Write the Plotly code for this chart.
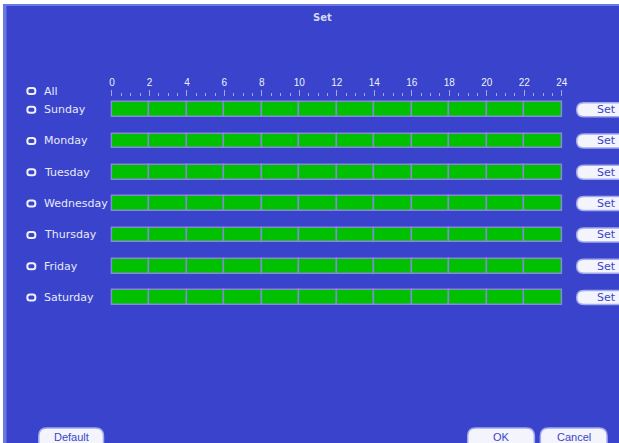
import plotly.graph_objects as go

W, H = 619, 443

# schedule data: every day recorded in 2-hour cells, all day
days = ["Sunday", "Monday", "Tuesday", "Wednesday", "Thursday", "Friday", "Saturday"]
cell_start = [0, 2, 4, 6, 8, 10, 12, 14, 16, 18, 20, 22]
cell_len = [2, 2, 2, 2, 2, 2, 2, 2, 2, 2, 2, 2]
hour_ticks = [0, 2, 4, 6, 8, 10, 12, 14, 16, 18, 20, 22, 24]

BLUE = "#3943cc"
TXT = "#e8eaf9"
GREEN = "#00c000"
CELL_LINE = "#838bd2"

# pixel helpers (layout only)
ROW0, ROWSTEP = 109.7, 31.3
BAR_L, BAR_R = 112.5, 564.5


def px(x):
    return x / W


def py(y):
    return 1 - y / H


def row_px(i):
    return ROW0 + ROWSTEP * i


def round_rect(x0, y0, x1, y1, r):
    rx, ry = r / W, r / H
    a0, a1, b0, b1 = px(x0), px(x1), py(y1), py(y0)
    return (f"M{a0+rx},{b0} L{a1-rx},{b0} Q{a1},{b0} {a1},{b0+ry} "
            f"L{a1},{b1-ry} Q{a1},{b1} {a1-rx},{b1} L{a0+rx},{b1} "
            f"Q{a0},{b1} {a0},{b1-ry} L{a0},{b0+ry} Q{a0},{b0} {a0+rx},{b0} Z")


def label(text, x, y, size, color, family="DejaVu Sans", xanchor="center"):
    return dict(text=text, x=px(x), y=py(y), xref="paper", yref="paper",
                xanchor=xanchor, yanchor="middle", showarrow=False,
                font=dict(family=family, size=size, color=color))


xs, bases, ys = [], [], []
for i, d in enumerate(days):
    for s, l in zip(cell_start, cell_len):
        xs.append(l)
        bases.append(s)
        ys.append(i)

fig = go.Figure()
fig.add_trace(go.Bar(
    x=xs, base=bases, y=ys, orientation="h", width=0.47,
    marker=dict(color=GREEN, line=dict(color=CELL_LINE, width=1.5)),
    hoverinfo="skip", showlegend=False,
))

shapes = []
# window frame
shapes.append(dict(type="rect", xref="paper", yref="paper", x0=0, x1=1, y0=0, y1=1,
                   fillcolor="white", line=dict(width=0), layer="below"))
shapes.append(dict(type="rect", xref="paper", yref="paper", x0=px(3), x1=1.01, y0=-0.01, y1=py(4),
                   fillcolor="#6d79e2", line=dict(width=0), layer="below"))
shapes.append(dict(type="rect", xref="paper", yref="paper", x0=px(6.5), x1=1.01, y0=-0.01, y1=py(6),
                   fillcolor=BLUE, line=dict(width=0), layer="below"))

annotations = [label("<b>Set</b>", 324, 18, 10, "#d4d8f4")]

label_rows = [("All", 91)] + [(d, row_px(i)) for i, d in enumerate(days)]
for name, yy in label_rows:
    shapes.append(dict(type="path", xref="paper", yref="paper",
                       path=round_rect(27.5, yy - 3, 35.5, yy + 3, 2.5),
                       fillcolor=BLUE, line=dict(color="#f0f1fb", width=2)))
    annotations.append(label(name, 42.5, yy, 11, TXT, xanchor="left"))

for i, d in enumerate(days):
    yy = row_px(i)
    shapes.append(dict(type="path", xref="paper", yref="paper",
                       path=round_rect(579.5, yy - 7, 640, yy + 7, 7),
                       fillcolor="#f3f4fc", line=dict(color="#a3aaec", width=1.5)))
    annotations.append(label("Set", 609, yy, 11, "#3b45c9"))

for name, x0, x1 in [("Default", 39, 104), ("OK", 470, 537), ("Cancel", 543, 610)]:
    shapes.append(dict(type="path", xref="paper", yref="paper",
                       path=round_rect(x0, 428, x1, 452, 8),
                       fillcolor="#f3f4fc", line=dict(color="#a3aaec", width=1.5)))
    annotations.append(label(name, (x0 + x1) / 2, 437, 11, "#3b45c9", family="Liberation Sans"))

pph = (BAR_R - BAR_L) / 24
fig.update_layout(
    width=W, height=H, margin=dict(l=0, r=0, t=0, b=0),
    paper_bgcolor="white", plot_bgcolor="rgba(0,0,0,0)",
    bargap=0, barmode="overlay",
    xaxis=dict(domain=[px(BAR_L - 0.15 * pph), px(BAR_R + 0.15 * pph)], range=[-0.15, 24.15],
               anchor="free", position=py(95.5), side="top",
               tickvals=hour_ticks, ticktext=[str(h) for h in hour_ticks],
               ticks="outside", ticklen=6, tickwidth=1, tickcolor="#a0a7ea",
               minor=dict(dtick=0.5, tick0=0, ticks="outside", ticklen=3, tickcolor="#a0a7ea"),
               showline=False, showgrid=False, zeroline=False,
               tickfont=dict(family="Liberation Sans", size=10, color="#eef0fb")),
    yaxis=dict(range=[(H - ROW0) / ROWSTEP, -ROW0 / ROWSTEP], visible=False,
               anchor="free", position=0, domain=[0, 1]),
    shapes=shapes, annotations=annotations,
)

fig.write_html("out.html", config={"displayModeBar": False},
               post_script="document.body.style.margin='0';")
